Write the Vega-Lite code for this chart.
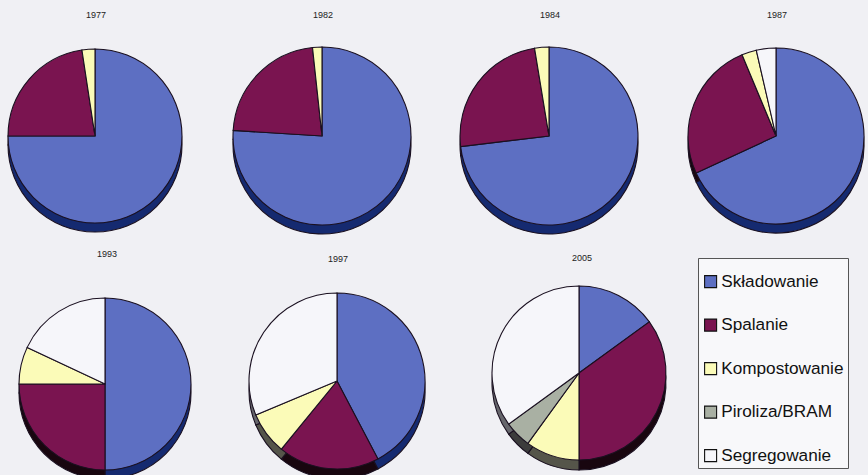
{
"$schema":"https://vega.github.io/schema/vega-lite/v6.json",
"background":"#f0f0f4",
"padding":{"left":3,"top":0,"right":0,"bottom":0},
"spacing":0,
"config":{"view":{"stroke":null},"arc":{"stroke":"#1a1020","strokeWidth":1.1}},
"datasets":{"odpady":[
{"rok":1977,"metoda":"Składowanie","kolejnosc":1,"udzial":75},
{"rok":1977,"metoda":"Spalanie","kolejnosc":2,"udzial":22.6},
{"rok":1977,"metoda":"Kompostowanie","kolejnosc":3,"udzial":2.4},
{"rok":1982,"metoda":"Składowanie","kolejnosc":1,"udzial":76},
{"rok":1982,"metoda":"Spalanie","kolejnosc":2,"udzial":22.3},
{"rok":1982,"metoda":"Kompostowanie","kolejnosc":3,"udzial":1.7},
{"rok":1984,"metoda":"Składowanie","kolejnosc":1,"udzial":73.1},
{"rok":1984,"metoda":"Spalanie","kolejnosc":2,"udzial":24.3},
{"rok":1984,"metoda":"Kompostowanie","kolejnosc":3,"udzial":2.6},
{"rok":1987,"metoda":"Składowanie","kolejnosc":1,"udzial":68.1},
{"rok":1987,"metoda":"Spalanie","kolejnosc":2,"udzial":25.6},
{"rok":1987,"metoda":"Kompostowanie","kolejnosc":3,"udzial":2.7},
{"rok":1987,"metoda":"Segregowanie","kolejnosc":5,"udzial":3.6},
{"rok":1993,"metoda":"Składowanie","kolejnosc":1,"udzial":50},
{"rok":1993,"metoda":"Spalanie","kolejnosc":2,"udzial":25},
{"rok":1993,"metoda":"Kompostowanie","kolejnosc":3,"udzial":7},
{"rok":1993,"metoda":"Segregowanie","kolejnosc":5,"udzial":18},
{"rok":1997,"metoda":"Składowanie","kolejnosc":1,"udzial":42.3},
{"rok":1997,"metoda":"Spalanie","kolejnosc":2,"udzial":18.6},
{"rok":1997,"metoda":"Kompostowanie","kolejnosc":3,"udzial":7.8},
{"rok":1997,"metoda":"Segregowanie","kolejnosc":5,"udzial":31.3},
{"rok":2005,"metoda":"Składowanie","kolejnosc":1,"udzial":15},
{"rok":2005,"metoda":"Spalanie","kolejnosc":2,"udzial":35},
{"rok":2005,"metoda":"Kompostowanie","kolejnosc":3,"udzial":10},
{"rok":2005,"metoda":"Piroliza/BRAM","kolejnosc":4,"udzial":5},
{"rok":2005,"metoda":"Segregowanie","kolejnosc":5,"udzial":35}
]},
"data":{"name":"odpady"},
"resolve":{"scale":{"color":"independent","fill":"independent"},"legend":{"color":"independent","fill":"independent"}},
"vconcat":[
{"resolve":{"scale":{"color":"independent","fill":"independent"},"legend":{"color":"independent","fill":"independent"}},"hconcat":[
{"width":184,"height":240,"transform":[{"filter":"datum.rok==1977"}],"layer":[
{"mark":{"type":"arc","radius":87,"x":92,"y":145},"encoding":{"theta":{"field":"udzial","type":"quantitative","scale":{"domain":[0,100]}},"order":{"field":"kolejnosc"},"fill":{"field":"metoda","scale":{"domain":["Składowanie","Spalanie","Kompostowanie","Piroliza/BRAM","Segregowanie"],"range":["#152a70","#18060f","#55554a","#3c3c3c","#66666c"]},"legend":null}}},
{"mark":{"type":"arc","radius":87,"x":92,"y":136},"encoding":{"theta":{"field":"udzial","type":"quantitative","scale":{"domain":[0,100]}},"order":{"field":"kolejnosc"},"color":{"field":"metoda","scale":{"domain":["Składowanie","Spalanie","Kompostowanie","Piroliza/BRAM","Segregowanie"],"range":["#5d6fc2","#7a1450","#fbfbb8","#a9b0a3","#f6f6fa"]},"legend":null}}},
{"transform":[{"aggregate":[],"groupby":["rok"]}],"mark":{"type":"text","x":93,"y":15,"fontSize":9,"font":"Liberation Sans","color":"#222"},"encoding":{"text":{"field":"rok","type":"ordinal"}}}
]},
{"width":184,"height":240,"transform":[{"filter":"datum.rok==1982"}],"layer":[
{"mark":{"type":"arc","radius":89,"x":92,"y":145},"encoding":{"theta":{"field":"udzial","type":"quantitative","scale":{"domain":[0,100]}},"order":{"field":"kolejnosc"},"fill":{"field":"metoda","scale":{"domain":["Składowanie","Spalanie","Kompostowanie","Piroliza/BRAM","Segregowanie"],"range":["#152a70","#18060f","#55554a","#3c3c3c","#66666c"]},"legend":null}}},
{"mark":{"type":"arc","radius":89,"x":92,"y":136},"encoding":{"theta":{"field":"udzial","type":"quantitative","scale":{"domain":[0,100]}},"order":{"field":"kolejnosc"},"color":{"field":"metoda","scale":{"domain":["Składowanie","Spalanie","Kompostowanie","Piroliza/BRAM","Segregowanie"],"range":["#5d6fc2","#7a1450","#fbfbb8","#a9b0a3","#f6f6fa"]},"legend":null}}},
{"transform":[{"aggregate":[],"groupby":["rok"]}],"mark":{"type":"text","x":93,"y":15,"fontSize":9,"font":"Liberation Sans","color":"#222"},"encoding":{"text":{"field":"rok","type":"ordinal"}}}
]},
{"width":184,"height":240,"transform":[{"filter":"datum.rok==1984"}],"layer":[
{"mark":{"type":"arc","radius":89,"x":92,"y":145},"encoding":{"theta":{"field":"udzial","type":"quantitative","scale":{"domain":[0,100]}},"order":{"field":"kolejnosc"},"fill":{"field":"metoda","scale":{"domain":["Składowanie","Spalanie","Kompostowanie","Piroliza/BRAM","Segregowanie"],"range":["#152a70","#18060f","#55554a","#3c3c3c","#66666c"]},"legend":null}}},
{"mark":{"type":"arc","radius":89,"x":92,"y":136},"encoding":{"theta":{"field":"udzial","type":"quantitative","scale":{"domain":[0,100]}},"order":{"field":"kolejnosc"},"color":{"field":"metoda","scale":{"domain":["Składowanie","Spalanie","Kompostowanie","Piroliza/BRAM","Segregowanie"],"range":["#5d6fc2","#7a1450","#fbfbb8","#a9b0a3","#f6f6fa"]},"legend":null}}},
{"transform":[{"aggregate":[],"groupby":["rok"]}],"mark":{"type":"text","x":93,"y":15,"fontSize":9,"font":"Liberation Sans","color":"#222"},"encoding":{"text":{"field":"rok","type":"ordinal"}}}
]},
{"width":184,"height":240,"transform":[{"filter":"datum.rok==1987"}],"layer":[
{"mark":{"type":"arc","radius":88,"x":92,"y":145},"encoding":{"theta":{"field":"udzial","type":"quantitative","scale":{"domain":[0,100]}},"order":{"field":"kolejnosc"},"fill":{"field":"metoda","scale":{"domain":["Składowanie","Spalanie","Kompostowanie","Piroliza/BRAM","Segregowanie"],"range":["#152a70","#18060f","#55554a","#3c3c3c","#66666c"]},"legend":null}}},
{"mark":{"type":"arc","radius":88,"x":92,"y":136},"encoding":{"theta":{"field":"udzial","type":"quantitative","scale":{"domain":[0,100]}},"order":{"field":"kolejnosc"},"color":{"field":"metoda","scale":{"domain":["Składowanie","Spalanie","Kompostowanie","Piroliza/BRAM","Segregowanie"],"range":["#5d6fc2","#7a1450","#fbfbb8","#a9b0a3","#f6f6fa"]},"legend":null}}},
{"transform":[{"aggregate":[],"groupby":["rok"]}],"mark":{"type":"text","x":93,"y":15,"fontSize":9,"font":"Liberation Sans","color":"#222"},"encoding":{"text":{"field":"rok","type":"ordinal"}}}
]}
],"spacing":43,"bounds":"flush"},
{"resolve":{"scale":{"color":"independent","fill":"independent"},"legend":{"color":"independent","fill":"independent"}},"hconcat":[
{"width":184,"height":235,"transform":[{"filter":"datum.rok==1993"}],"layer":[
{"mark":{"type":"arc","radius":86,"x":102,"y":153},"encoding":{"theta":{"field":"udzial","type":"quantitative","scale":{"domain":[0,100]}},"order":{"field":"kolejnosc"},"fill":{"field":"metoda","scale":{"domain":["Składowanie","Spalanie","Kompostowanie","Piroliza/BRAM","Segregowanie"],"range":["#152a70","#18060f","#55554a","#3c3c3c","#66666c"]},"legend":null}}},
{"mark":{"type":"arc","radius":86,"x":102,"y":144},"encoding":{"theta":{"field":"udzial","type":"quantitative","scale":{"domain":[0,100]}},"order":{"field":"kolejnosc"},"color":{"field":"metoda","scale":{"domain":["Składowanie","Spalanie","Kompostowanie","Piroliza/BRAM","Segregowanie"],"range":["#5d6fc2","#7a1450","#fbfbb8","#a9b0a3","#f6f6fa"]},"legend":null}}},
{"transform":[{"aggregate":[],"groupby":["rok"]}],"mark":{"type":"text","x":104,"y":14,"fontSize":9,"font":"Liberation Sans","color":"#222"},"encoding":{"text":{"field":"rok","type":"ordinal"}}}
]},
{"width":184,"height":235,"transform":[{"filter":"datum.rok==1997"}],"layer":[
{"mark":{"type":"arc","radius":88,"x":107,"y":151},"encoding":{"theta":{"field":"udzial","type":"quantitative","scale":{"domain":[0,100]}},"order":{"field":"kolejnosc"},"fill":{"field":"metoda","scale":{"domain":["Składowanie","Spalanie","Kompostowanie","Piroliza/BRAM","Segregowanie"],"range":["#152a70","#18060f","#55554a","#3c3c3c","#66666c"]},"legend":null}}},
{"mark":{"type":"arc","radius":88,"x":107,"y":141},"encoding":{"theta":{"field":"udzial","type":"quantitative","scale":{"domain":[0,100]}},"order":{"field":"kolejnosc"},"color":{"field":"metoda","scale":{"domain":["Składowanie","Spalanie","Kompostowanie","Piroliza/BRAM","Segregowanie"],"range":["#5d6fc2","#7a1450","#fbfbb8","#a9b0a3","#f6f6fa"]},"legend":null}}},
{"transform":[{"aggregate":[],"groupby":["rok"]}],"mark":{"type":"text","x":108,"y":19,"fontSize":9,"font":"Liberation Sans","color":"#222"},"encoding":{"text":{"field":"rok","type":"ordinal"}}}
]},
{"width":184,"height":235,"transform":[{"filter":"datum.rok==2005"}],"layer":[
{"mark":{"type":"arc","radius":87,"x":122,"y":143},"encoding":{"theta":{"field":"udzial","type":"quantitative","scale":{"domain":[0,100]}},"order":{"field":"kolejnosc"},"fill":{"field":"metoda","scale":{"domain":["Segregowanie","Piroliza/BRAM","Kompostowanie","Spalanie","Składowanie"],"range":["#66666c","#3c3c3c","#55554a","#18060f","#152a70"]},"legend":null}}},
{"mark":{"type":"arc","radius":87,"x":122,"y":133},"encoding":{"theta":{"field":"udzial","type":"quantitative","scale":{"domain":[0,100]}},"order":{"field":"kolejnosc"},"color":{"field":"metoda","scale":{"domain":["Składowanie","Spalanie","Kompostowanie","Piroliza/BRAM","Segregowanie"],"range":["#5d6fc2","#7a1450","#fbfbb8","#a9b0a3","#f6f6fa"]},"legend":{"title":" ","titleFontSize":2,"titlePadding":9,"orient":"none","legendX":241,"legendY":18,"columns":1,"gridAlign":"none","symbolType":"square","symbolSize":144,"symbolStrokeColor":"#111","symbolStrokeWidth":1,"symbolOpacity":1,"labelFontSize":17.2,"labelFont":"Liberation Sans","labelColor":"#111","labelOffset":2,"rowPadding":25.5,"columnPadding":0,"padding":4,"strokeColor":"#555","fillColor":"#f8f8fa","labelLimit":126}}}},
{"transform":[{"aggregate":[],"groupby":["rok"]}],"mark":{"type":"text","x":125,"y":18,"fontSize":9,"font":"Liberation Sans","color":"#222"},"encoding":{"text":{"field":"rok","type":"ordinal"}}}
]}
],"spacing":43,"bounds":"flush"}
]
}
